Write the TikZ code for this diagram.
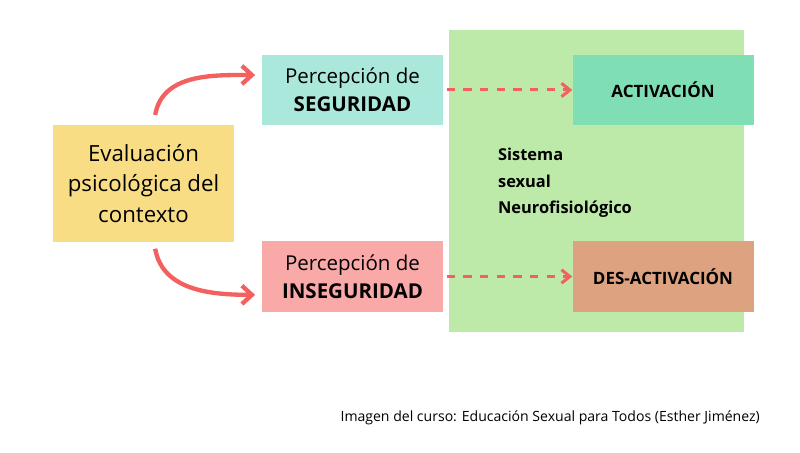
\documentclass[tikz,border=0pt]{standalone}
\usepackage{fontspec}
\setmainfont{Open Sans}
\usetikzlibrary{positioning, arrows.meta}
\definecolor{fondo}{HTML}{BDE9A9}
\definecolor{amarillo}{HTML}{F9DD85}
\definecolor{menta}{HTML}{A9E8DA}
\definecolor{rosa}{HTML}{F9A9A8}
\definecolor{verde}{HTML}{80DEB4}
\definecolor{cobre}{HTML}{DDA27F}
\definecolor{flecha}{HTML}{F26060}
\begin{document}
\begin{tikzpicture}
    [
        x=0.03cm, y=-0.03cm,
        caja/.style={inner sep=0pt, align=center, minimum width=5.43cm, minimum height=2.1cm},
        curva/.style={-{Straight Barb[length=3mm, width=5.5mm]}, line width=1.3mm, color=flecha},
        puntos/.style={-{Straight Barb[length=2.5mm, width=4mm]}, line width=0.9mm, color=flecha, dash pattern=on 2.5mm off 2.5mm},
    ]
        \useasboundingbox (0,0) rectangle (800,453);
        \fill[fondo] (449,30) rectangle (744,332);
        \node[caja, fill=amarillo, minimum height=3.5cm, font=\fontsize{19}{26}\selectfont] (eval) at (143.5,183.5) {Evaluación\\psicológica del\\contexto};
        \node[caja, fill=menta, font=\fontsize{17.5}{24}\selectfont] (seg) at (352.5,90) {Percepción de\\\textbf{SEGURIDAD}};
        \node[caja, fill=rosa, font=\fontsize{17.5}{24}\selectfont] (inseg) at (352.5,276.5) {Percepción de\\\textbf{INSEGURIDAD}};
        \node[caja, fill=verde, font=\bfseries\fontsize{14.5}{16}\selectfont] (act) at (663,90) {ACTIVACIÓN};
        \node[caja, fill=cobre, font=\bfseries\fontsize{14.5}{16}\selectfont] (desact) at (663,276.5) {DES-ACTIVACIÓN};
        \node[align=left, anchor=west, font=\bfseries\fontsize{14}{22.5}\selectfont] (sistema) at (494,183) {Sistema\\sexual\\Neurofisiológico};
        \node[anchor=east, font=\fontsize{12}{14}\selectfont] (pie) at (764,418) {Imagen del curso: Educación Sexual para Todos (Esther Jiménez)};
        \draw[curva] ([xshift=0.35cm, yshift=0.3cm]eval.north) to[out=80, in=180] ([xshift=-0.2cm, yshift=0.45cm]seg.west);
        \draw[curva] ([xshift=0.35cm, yshift=-0.2cm]eval.south) to[out=-80, in=180] ([xshift=-0.2cm, yshift=-0.55cm]inseg.west);
        \draw[puntos] ([xshift=0.1cm]seg.east) -- (act.west);
        \draw[puntos] ([xshift=0.1cm]inseg.east) -- (desact.west);
\end{tikzpicture}
\end{document}
